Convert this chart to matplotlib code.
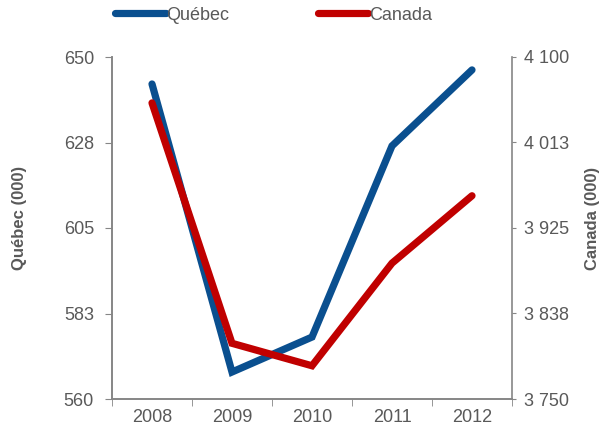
import matplotlib
matplotlib.use("Agg")
import matplotlib.pyplot as plt
from matplotlib import font_manager

years = ["2008", "2009", "2010", "2011", "2012"]
quebec = [642.9, 567.1, 576.3, 626.6, 646.6]
canada = [4053, 3807, 3784, 3889, 3958]
q_ticks = [560, 582.5, 605, 627.5, 650]
q_tick_labels = ["560", "583", "605", "628", "650"]
c_ticks = [3750, 3837.5, 3925, 4012.5, 4100]
c_tick_labels = ["3 750", "3 838", "3 925", "4 013", "4 100"]

names = {f.name for f in font_manager.fontManager.ttflist}
fam = ["Liberation Sans Narrow"] if "Liberation Sans Narrow" in names else ["Liberation Sans"]
plt.rcParams['font.family'] = fam + ["DejaVu Sans"]

gray = "#595959"
spine = "#868686"
blue = "#0A4F8F"
red = "#C00000"

fig = plt.figure(figsize=(6.08, 4.37), dpi=100)
ax = fig.add_axes([112/608, 1-399/437, 400/608, 342/437])
ax2 = ax.twinx()

x = list(range(len(years)))
l1, = ax.plot(x, quebec, color=blue, lw=5.2, solid_capstyle='round', solid_joinstyle='miter', label="Québec")
l2, = ax2.plot(x, canada, color=red, lw=5.2, solid_capstyle='round', solid_joinstyle='miter', label="Canada")

ax.set_xlim(-0.5, 4.5)
ax.set_ylim(560, 650)
ax2.set_ylim(3750, 4100)

ax.set_xticks(x)
ax.set_xticklabels(years)
ax.set_xticks([i - 0.5 for i in range(len(years) + 1)], minor=True)
ax.tick_params(axis='x', which='major', length=0, pad=7, labelsize=13, labelcolor=gray)
ax.tick_params(axis='x', which='minor', length=5, color=spine, direction='out')

ax.set_yticks(q_ticks)
ax.set_yticklabels(q_tick_labels)
ax.tick_params(axis='y', length=5, color=spine, labelsize=13, labelcolor=gray, pad=8)
ax2.set_yticks(c_ticks)
ax2.set_yticklabels(c_tick_labels)
ax2.tick_params(axis='y', length=3, color=spine, labelsize=13, labelcolor=gray, pad=6)

for a in (ax, ax2):
    a.spines['top'].set_visible(False)
    for s in ('left', 'right', 'bottom'):
        a.spines[s].set_color(spine)
        a.spines[s].set_linewidth(1.2)
ax.spines['right'].set_visible(False)

ax.set_ylabel("Québec (000)", fontsize=12, fontweight='bold', color=gray)
ax2.set_ylabel("Canada (000)", fontsize=12, fontweight='bold', color=gray)
ax.yaxis.set_label_coords(-(112 - 20) / 400, (399 - 218) / 342)
ax2.yaxis.set_label_coords(1 + (592 - 512) / 400, (399 - 218) / 342)
ax.yaxis.label.set_verticalalignment('center')
ax2.yaxis.label.set_verticalalignment('center')

leg = fig.legend(handles=[l1, l2], loc='center left', bbox_to_anchor=(115/608, 1-15/437),
                 ncol=2, frameon=False, fontsize=13, handlelength=2.8, handletextpad=0.05,
                 columnspacing=4.9, borderaxespad=0, borderpad=0)
for t in leg.get_texts():
    t.set_color(gray)

fig.savefig("out.png", dpi=100)
